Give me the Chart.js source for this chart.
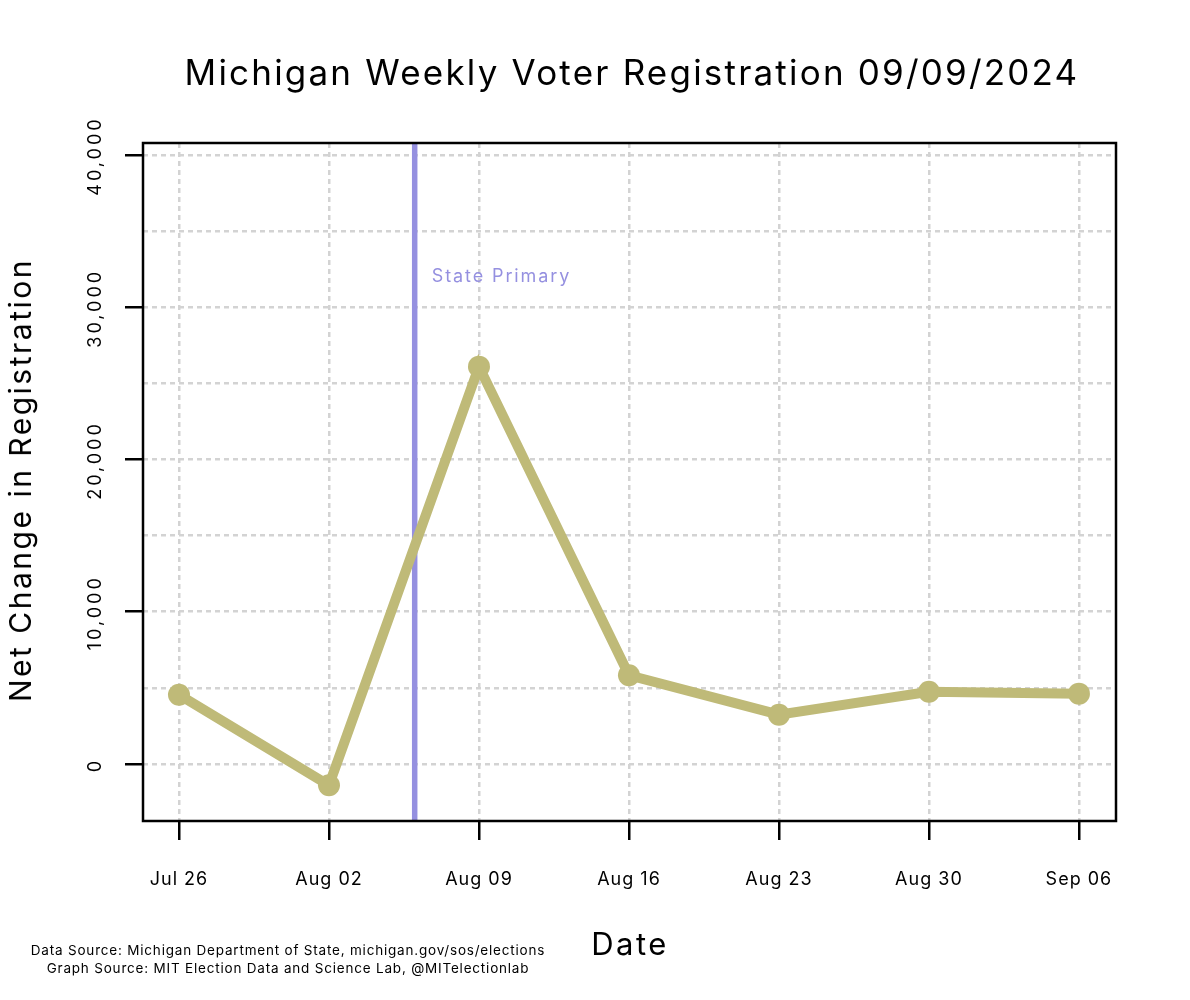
<!DOCTYPE html>
<html><head><meta charset="utf-8">
<script src="https://cdn.jsdelivr.net/npm/chart.js@4"></script>
<style>
body{margin:0;background:#fff;}
#wrap{position:relative;width:1190px;height:1000px;font-family:Inter, "DejaVu Sans", sans-serif;color:#000;}
canvas{position:absolute;left:0;top:0;}
.t{position:absolute;white-space:nowrap;}
</style></head><body>
<div id="wrap">
<canvas id="c" width="1190" height="1000"></canvas>
<div class="t" style="left:632px;top:72px;transform:translate(-50%,-50%);font-size:35px;letter-spacing:2.2px;">Michigan Weekly Voter Registration 09/09/2024</div>
<div class="t" style="left:630px;top:943px;transform:translate(-50%,-50%);font-size:31px;letter-spacing:2.5px;">Date</div>
<div class="t" style="left:20px;top:480px;transform:translate(-50%,-50%) rotate(-90deg);font-size:30px;letter-spacing:2.5px;">Net Change in Registration</div>
<div class="t" style="left:288px;top:959px;transform:translate(-50%,-50%);font-size:13.5px;letter-spacing:0.8px;text-align:center;line-height:18px;">Data Source: Michigan Department of State, michigan.gov/sos/elections<br>Graph Source: MIT Election Data and Science Lab, @MITelectionlab</div>
</div>
<script>
const dates = ['2024-07-26','2024-08-02','2024-08-09','2024-08-16','2024-08-23','2024-08-30','2024-09-06'];
const dateLabels = ['Jul 26','Aug 02','Aug 09','Aug 16','Aug 23','Aug 30','Sep 06'];
const netChange = [4550, -1400, 26100, 5830, 3240, 4740, 4620];
const yTickValues = [0, 5000, 10000, 15000, 20000, 25000, 30000, 35000, 40000];
const yLabelStep = 10000;
const primaryDate = '2024-08-06';
const primaryLabel = 'State Primary';
const primaryLabelY = 32000;

const DAY = 86400000;
const t0 = Date.parse(dates[0]);
const dayOf = d => (Date.parse(d) - t0) / DAY;
const xTickValues = dates.map(dayOf);
const points = dates.map((d, i) => ({x: dayOf(d), y: netChange[i]}));

const LINE = '#bfba78';
const PURPLE = '#9590e0';
const FONT = 'Inter, "DejaVu Sans", sans-serif';

const extras = {
  id: 'extras',
  beforeDraw(chart) { chart.ctx.letterSpacing = '1px'; },
  beforeDatasetsDraw(chart) {
    const {ctx, chartArea: a, scales: {x}} = chart;
    const px = x.getPixelForValue(dayOf(primaryDate));
    ctx.save();
    ctx.strokeStyle = PURPLE; ctx.lineWidth = 5.5;
    ctx.beginPath(); ctx.moveTo(px, a.top); ctx.lineTo(px, a.bottom); ctx.stroke();
    ctx.restore();
  },
  afterDraw(chart) {
    const {ctx, chartArea: a, scales: {x, y}} = chart;
    ctx.save();
    ctx.strokeStyle = '#000'; ctx.lineWidth = 2.5;
    ctx.strokeRect(a.left, a.top, a.right - a.left, a.bottom - a.top);
    // y tick labels (rotated)
    ctx.fillStyle = '#000'; ctx.font = '18px ' + FONT;
    ctx.letterSpacing = '3px';
    ctx.textAlign = 'center'; ctx.textBaseline = 'middle';
    yTickValues.filter(v => v % yLabelStep === 0).forEach(v => {
      const py = y.getPixelForValue(v);
      ctx.save(); ctx.translate(96, py + 1); ctx.rotate(-Math.PI / 2);
      ctx.fillText(v.toLocaleString('en-US'), 0, 0);
      ctx.restore();
    });
    // primary label
    const px = x.getPixelForValue(dayOf(primaryDate));
    ctx.fillStyle = PURPLE; ctx.font = '18px ' + FONT;
    ctx.letterSpacing = '1.9px';
    ctx.textAlign = 'left';
    ctx.fillText(primaryLabel, px + 17, y.getPixelForValue(primaryLabelY));
    ctx.restore();
  }
};

new Chart(document.getElementById('c'), {
  type: 'line',
  data: {datasets: [{
    data: points,
    borderColor: LINE, backgroundColor: LINE,
    borderWidth: 10, pointRadius: 11, pointHoverRadius: 11,
    pointBorderWidth: 0, tension: 0, fill: false
  }]},
  options: {
    responsive: false, devicePixelRatio: 1, animation: false,
    layout: {padding: {top: 143, right: 74, left: 0, bottom: 0}},
    plugins: {legend: {display: false}, tooltip: {enabled: false}},
    scales: {
      x: {
        type: 'linear', min: -1.68, max: 43.73,
        afterBuildTicks: s => { s.ticks = xTickValues.map(v => ({value: v})); },
        afterFit: s => { s.height = 179; },
        ticks: {
          autoSkip: false, maxRotation: 0, minRotation: 0, padding: 29,
          color: '#000', font: {family: FONT, size: 18},
          callback: (v) => { const i = xTickValues.indexOf(v); return i >= 0 ? dateLabels[i] : ''; }
        },
        grid: {color: '#d3d3d3', lineWidth: 2.5, tickColor: '#000', tickLength: 19, tickWidth: 2.5},
        border: {display: false, dash: [5, 4]}
      },
      y: {
        type: 'linear', min: -3745, max: 40790,
        afterBuildTicks: s => { s.ticks = yTickValues.map(v => ({value: v})); },
        afterFit: s => { s.width = 143; },
        ticks: {display: false},
        grid: {color: '#d3d3d3', lineWidth: 2.5, tickLength: 18, tickWidth: 2.5,
          tickColor: c => (c.tick && c.tick.value % yLabelStep === 0) ? '#000' : 'rgba(0,0,0,0)'},
        border: {display: false, dash: [5, 4]}
      }
    }
  },
  plugins: [extras]
});
</script>
</body></html>
